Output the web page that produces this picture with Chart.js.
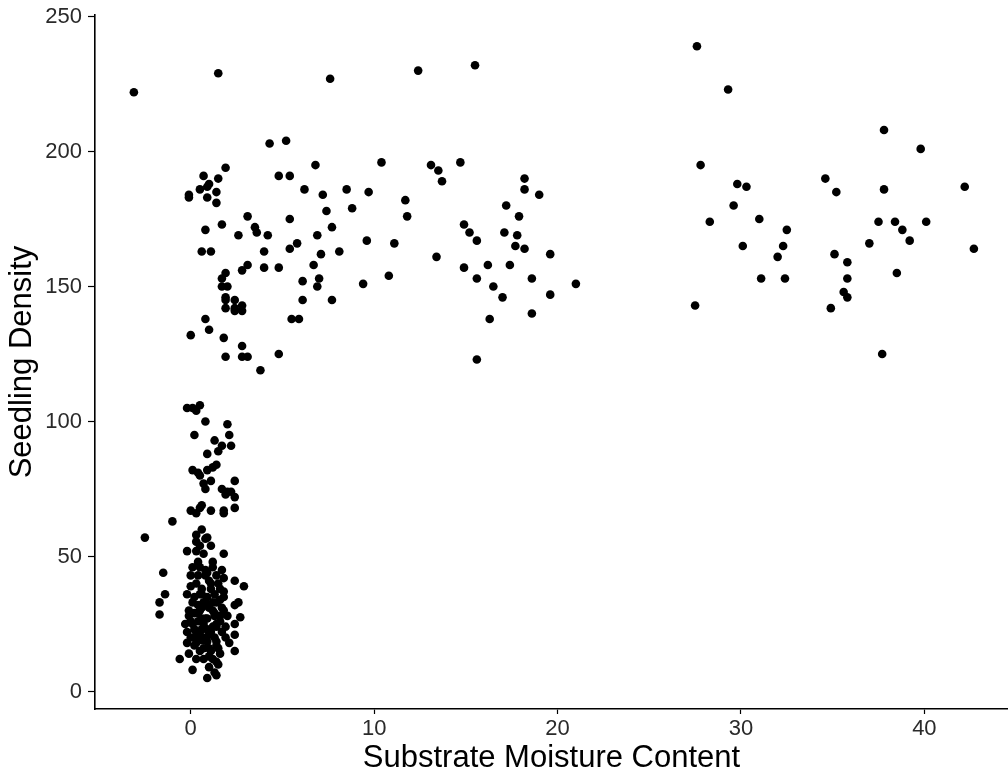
<!DOCTYPE html>
<html>
<head>
<meta charset="utf-8">
<script src="https://cdn.jsdelivr.net/npm/chart.js@4.4.0/dist/chart.umd.min.js"></script>
<style>
  body { margin: 0; background: #fff; }
  canvas { display: block; }
</style>
</head>
<body>
<canvas id="stat" width="1008" height="778"></canvas>
<script>
// substrate moisture content (x) and seedling density (y)
const moisture = [
  // 0-12 % group, upper band
  -3.1, 1.5, 7.6, 4.3, 5.2, 1.9, 0.7, 1.5, 1.0, 0.9, 0.5, -0.1, -0.1, 0.9, 1.4, 1.4,
  4.8, 5.4, 6.8, 10.4, 6.2, 7.2, 8.5, 9.7, 11.7, 11.8, 7.4, 8.8, 3.1, 0.8, 1.7, 5.4,
  2.6, 3.5, 3.6, 4.2, 6.9, 7.7, 9.6, 11.1, 0.6, 1.1, 4.0, 5.8, 5.4, 7.1, 8.1, 3.1,
  2.8, 1.9, 1.7, 1.7, 2.0, 4.0, 4.8, 6.7, 7.0, 6.9, 6.1, 9.4, 10.8, 1.9, 1.9, 1.9,
  2.4, 2.4, 2.8, 2.4, 2.8, 6.1, 7.7, 5.5, 5.9, 0.8, 1.0, 0.0, 1.8, 2.8, 1.9, 2.8,
  3.1, 4.8, 3.8,
  // 12-21 %
  12.4, 15.5, 13.1, 13.5, 13.7, 14.7, 18.2, 18.2, 19.0, 17.2, 17.9, 14.9, 15.2, 15.6, 17.1, 17.8,
  17.7, 18.2, 19.6, 13.4, 14.9, 16.2, 17.4, 15.6, 18.6, 16.5, 17.0, 19.6, 21.0, 16.3, 18.6, 15.6,
  // 27-43 %
  27.6, 29.3, 37.8, 39.8, 27.8, 29.8, 30.3, 29.6, 28.3, 31.0, 32.5, 32.3, 32.0, 30.1, 31.1, 32.4,
  27.5, 34.6, 35.2, 37.8, 42.2, 37.5, 38.4, 38.8, 40.1, 39.2, 37.0, 35.1, 35.8, 35.8, 42.7, 38.5,
  35.6, 35.8, 34.9, 37.7,
  // dry cluster, low density
  -0.2, 0.1, 0.5, 0.3, 0.8, 2.0, 0.2, 2.1, 1.3, 1.7, 2.2, 1.5, 0.9, 1.4, 1.2, 0.9,
  0.1, 0.4, 0.5, 1.1, 0.7, 2.4, 1.7, 0.8, 2.0, 2.2, 2.4, 1.9, 0.6, 0.0, 0.3, 0.5,
  1.1, 1.8, 1.8, 2.4, -1.0, -2.5, 0.6, 0.3, 0.9,
  0.3, 0.8, 0.5, 1.1, -0.2, 0.3, 0.7, 1.8, -1.5, 0.1, 0.5, 1.2, 1.7, 0.0, 0.8, 1.4,
  1.8, 2.4, 2.9, 0.3, 1.1, 1.6, -0.2, -1.4, 0.6, 1.3, 1.8, -1.7, 0.1, 0.8, 1.4, 2.4,
  2.6, -0.1, 0.5, 1.2, -1.7,
  -0.1, 0.4, 1.3, 2.0, 2.7, 2.4, 0.1, 0.7, 1.4, -0.2, 0.5, 1.1, 1.7, 2.4, -0.2, 0.3,
  0.9, 1.4, 2.1, 2.4, -0.1, 0.5, 1.1, 1.6, -0.6, 0.7, 1.4, 0.1, 1.0, 1.5, 1.3, 0.9, 1.4,
  0.6, 0.9, 1.0, 0.4, 0.9, 1.3, 0.6, 0.2, 1.0, 0.3, 0.8, 1.6, 1.9, 0.0, 1.2, 0.4,
  0.9, 1.6, 0.2, 0.6, 1.8, 1.2, 0.6, -0.3, 0.8, 1.5, 0.2, 1.9, 0.0, 1.2,
  0.4, 1.0, 1.5, 0.7, 1.3, 0.2, 0.9, 1.7, 0.5, 1.1, 0.0, 0.7, 1.4, 0.3, 1.0, 1.8,
  0.6, 1.2, 0.8, 0.4, 1.6, 1.0, 0.3, 1.4
];
const density = [
  222, 229, 227, 203, 204, 194, 191, 190, 188, 187, 186, 184, 183, 183, 185, 181,
  191, 191, 195, 196, 186, 184, 186, 185, 182, 176, 178, 179, 176, 171, 173, 175,
  169, 172, 170, 169, 169, 172, 167, 166, 163, 163, 163, 166, 164, 162, 163, 158,
  156, 155, 153, 150, 150, 157, 157, 158, 153, 150, 152, 151, 154, 146, 145, 142,
  145, 142, 143, 141, 141, 145, 145, 138, 138, 138, 134, 132, 131, 128, 124, 124,
  124, 125, 119,
  230, 232, 195, 193, 189, 196, 190, 186, 184, 180, 176, 173, 170, 167, 170, 169,
  165, 164, 162, 161, 157, 158, 158, 153, 153, 150, 146, 147, 151, 138, 140, 123,
  239, 223, 208, 201, 195, 188, 187, 180, 174, 175, 171, 165, 161, 165, 153, 153,
  143, 190, 185, 186, 187, 174, 174, 171, 174, 167, 166, 162, 159, 153, 164, 155,
  148, 146, 142, 125,
  105, 105, 106, 104, 100, 99, 95, 95, 93, 91, 91, 89, 88, 84, 83, 82,
  82, 81, 80, 78, 77, 78, 75, 75, 74, 74, 72, 73, 69, 67, 66, 68,
  67, 67, 66, 68, 63, 57, 60, 58, 57,
  55.5, 56.6, 54, 54, 52, 52, 51, 51, 44, 46, 46, 46, 45, 43, 43, 43,
  42, 41, 39, 40, 40, 38, 36, 36, 36, 36, 37, 33, 33, 33, 33, 32,
  33, 30, 30, 30, 28.5,
  28, 29, 28, 28, 27.5, 25, 25, 25, 25, 22, 21, 22, 22, 21, 18, 18,
  18.5, 18.5, 18, 15, 14, 15, 15, 14, 12, 12, 11, 8, 9, 10, 7, 5, 6,
  38, 35, 31, 26, 23, 20, 19, 23, 16, 12, 27, 26, 20, 26, 48, 48,
  44, 34, 35, 31, 30, 24, 23, 25, 20, 16, 17, 24, 20, 12,
  43, 41, 40, 33, 29, 29, 27, 31, 36, 38, 39, 16, 17, 20, 13, 35,
  27, 33, 45, 32, 28, 21, 22, 24
];
const xTicks = [0, 10, 20, 30, 40];
const yTicks = [0, 50, 100, 150, 200, 250];

const points = moisture.map((x, i) => ({ x: x, y: density[i] }));

const family = "'Liberation Sans', Arial, Helvetica, sans-serif";

new Chart(document.getElementById('stat'), {
  type: 'scatter',
  data: {
    datasets: [{
      data: points,
      backgroundColor: '#000',
      borderWidth: 0,
      pointRadius: 4.3,
      pointHoverRadius: 4.3
    }]
  },
  options: {
    responsive: false,
    animation: false,
    events: [],
    layout: { autoPadding: false, padding: { top: 15, right: 0, left: 0, bottom: 0 } },
    plugins: { legend: { display: false }, tooltip: { enabled: false } },
    scales: {
      x: {
        type: 'linear',
        min: -5.22,
        max: 44.56,
        afterBuildTicks: s => { s.ticks = xTicks.map(v => ({ value: v })); },
        afterFit: s => { s.height = 69; },
        border: { display: true, color: '#000', width: 1.6 },
        grid: { display: true, drawOnChartArea: false, drawTicks: true, tickLength: 5, tickColor: '#000', tickWidth: 1.2 },
        ticks: { color: '#2a2a2a', padding: 2, font: { family: family, size: 22 } },
        title: {
          display: true,
          text: 'Substrate Moisture Content',
          color: '#000',
          padding: { top: 0, bottom: 0.5 },
          font: { family: family, size: 31 }
        }
      },
      y: {
        type: 'linear',
        min: -6.5,
        max: 250.6,
        afterBuildTicks: s => { s.ticks = yTicks.map(v => ({ value: v })); },
        afterFit: s => { s.width = 95; s.paddingTop = 0; s.paddingBottom = 0; },
        border: { display: true, color: '#000', width: 1.6 },
        grid: { display: true, drawOnChartArea: false, drawTicks: true, tickLength: 7, tickColor: '#000', tickWidth: 1.2 },
        ticks: { color: '#2a2a2a', padding: 6, font: { family: family, size: 22, lineHeight: 1 } },
        title: {
          display: true,
          text: 'Seedling Density',
          color: '#000',
          padding: { top: 4, bottom: 0 },
          font: { family: family, size: 31 }
        }
      }
    }
  }
});
</script>
</body>
</html>
